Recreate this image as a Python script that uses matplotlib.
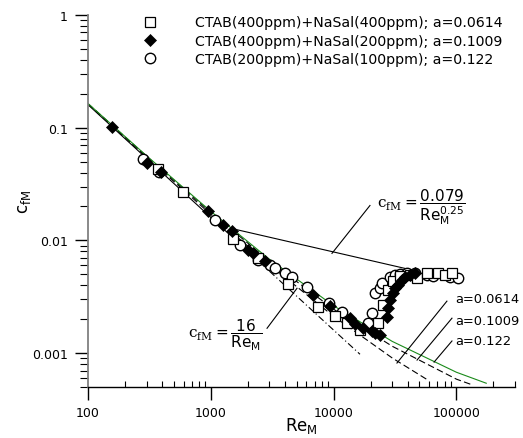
import matplotlib
matplotlib.use('Agg')
from matplotlib import pyplot as plt
from matplotlib.ticker import LogLocator, FuncFormatter, NullFormatter

plt.rcParams['mathtext.fontset'] = 'custom'
plt.rcParams['mathtext.rm'] = 'DejaVu Sans'
plt.rcParams['mathtext.it'] = 'DejaVu Sans:italic'

re_sq = [372, 594, 1516, 2424, 4253, 7464, 10265, 12856, 16406, 22990, 25255, 27733,
         30449, 34718, 41876, 47775, 57625, 70836, 80801, 92100]
cf_sq = [0.0434, 0.0271, 0.0102, 0.00693, 0.00408, 0.00255, 0.00213, 0.00184, 0.00160,
         0.00184, 0.00266, 0.00361, 0.00434, 0.00480, 0.00490, 0.00461, 0.00510, 0.00510,
         0.00490, 0.00510]

re_di = [157, 302, 393, 949, 1257, 1488, 2009, 2206, 2763, 6796, 9348, 13599, 14939,
         17353, 20546, 21737, 23870, 27220, 27733, 28793, 30449, 31623, 33442, 36048,
         38134, 41876, 46013]
cf_di = [0.102, 0.0490, 0.0408, 0.01805, 0.01358, 0.01201, 0.00816, 0.00767, 0.00652,
         0.00326, 0.00261, 0.00204, 0.00181, 0.00166, 0.00157, 0.00150, 0.00144, 0.00208,
         0.00250, 0.00294, 0.00340, 0.00376, 0.00400, 0.00443, 0.00471, 0.00490, 0.00510]

re_ci = [280, 379, 1082, 1729, 2424, 3035, 3333, 4020, 4585, 6074, 9174, 11706, 19057,
         20546, 21737, 23870, 24787, 28793, 31623, 34718, 39594, 46013, 57625, 64483,
         88690, 103040]
cf_ci = [0.0532, 0.0408, 0.01503, 0.00903, 0.00665, 0.00601, 0.00565, 0.00510, 0.00471,
         0.00384, 0.00277, 0.00231, 0.00184, 0.00226, 0.00340, 0.00376, 0.00416, 0.00471,
         0.00490, 0.00500, 0.00510, 0.00510, 0.00490, 0.00480, 0.00471, 0.00461]

labels = ['CTAB(400ppm)+NaSal(400ppm); a=0.0614',
          'CTAB(400ppm)+NaSal(200ppm); a=0.1009',
          'CTAB(200ppm)+NaSal(100ppm); a=0.122']

# reference lines
re_lam = [100, 2500]
cf_lam = [0.16, 0.0064]
re_lam_dd = [2500, 16400]
cf_lam_dd = [0.0064, 0.000976]
re_bl = [1500, 50000]
cf_bl = [0.0127, 0.00527]

# fitted curves for each a
re_a1 = [100, 300, 1000, 3000, 10000, 30000, 58000]
cf_a1 = [0.1621, 0.0548, 0.0170, 0.00608, 0.00212, 0.000905, 0.00058]
re_a2 = [100, 300, 1000, 3000, 10000, 30000, 100000, 136000]
cf_a2 = [0.1634, 0.0558, 0.0177, 0.00656, 0.00245, 0.00115, 0.000587, 0.00052]
re_a3 = [100, 300, 1000, 3000, 10000, 30000, 100000, 175000]
cf_a3 = [0.164, 0.0563, 0.0181, 0.0068, 0.00263, 0.00127, 0.000676, 0.00054]

fig = plt.figure(figsize=(5.23, 4.39), dpi=100)
ax = fig.add_axes([88/523, 1-388/439, (515-88)/523, (388-16)/439])
ax.set_xscale('log')
ax.set_yscale('log')
ax.set_xlim(100, 300000)
ax.set_ylim(0.0005, 1)

lw = 0.8
ax.plot(re_lam, cf_lam, color='k', lw=lw)
ax.plot(re_lam_dd, cf_lam_dd, color='k', lw=lw, dashes=(6, 2.5, 1, 2.5))
ax.plot(re_bl, cf_bl, color='k', lw=lw)
ax.plot(re_a1, cf_a1, color='k', lw=lw, dashes=(6, 3))
ax.plot(re_a2, cf_a2, color='k', lw=lw, dashes=(6, 3))
ax.plot(re_a3, cf_a3, color='#1a8a1a', lw=lw)

h1, = ax.plot(re_sq, cf_sq, 's', ms=6.5, mfc='white', mec='k', mew=0.9, zorder=5)
h2, = ax.plot(re_di, cf_di, 'D', ms=6, mfc='k', mec='k', mew=0.5, zorder=6)
h3, = ax.plot(re_ci, cf_ci, 'o', ms=7.5, mfc='white', mec='k', mew=1.0, zorder=4)

ax.legend([h1, h2, h3], labels, loc='upper left', bbox_to_anchor=(143/523, 1-16.5/439),
          bbox_transform=fig.transFigure, frameon=False, fontsize=10.2, borderpad=0,
          borderaxespad=0, handlelength=1.0, handletextpad=2.65, labelspacing=0.3)

# annotations
def label_eq(x, y, s):
    ax.text(x, y, s, family='DejaVu Serif', fontsize=11, va='center', ha='left')

label_eq(22500, 0.0200, r'$\mathregular{c}_{\mathregular{fM}}=\dfrac{0.079}{\mathrm{Re}_{\mathrm{M}}^{0.25}}$')
ax.plot([19770, 9700], [0.0204, 0.00767], color='k', lw=lw)
label_eq(651, 0.00147, r'$\mathregular{c}_{\mathregular{fM}}=\dfrac{16}{\mathrm{Re}_{\mathrm{M}}}$')
ax.plot([2870, 5035], [0.00166, 0.00376], color='k', lw=lw)

ax.text(97500, 0.00307, 'a=0.0614', fontsize=9.4, va='center')
ax.text(97500, 0.00196, 'a=0.1009', fontsize=9.4, va='center')
ax.text(97500, 0.00130, 'a=0.122', fontsize=9.4, va='center')
ax.plot([83700, 32800], [0.00289, 0.000816], color='k', lw=lw)
ax.plot([92000, 47800], [0.00204, 0.000867], color='k', lw=lw)
ax.plot([92000, 65800], [0.00128, 0.000832], color='k', lw=lw)

# axes styling
for s in ['top', 'right']:
    ax.spines[s].set_visible(False)
ax.spines['left'].set_color('0.5')
ax.spines['left'].set_linewidth(1.3)
ax.spines['bottom'].set_linewidth(1.0)

fmt = FuncFormatter(lambda v, p: '%g' % v)
ax.xaxis.set_major_locator(LogLocator(base=10, numticks=10))
ax.xaxis.set_minor_locator(LogLocator(base=10, subs=range(2, 10), numticks=20))
ax.yaxis.set_major_locator(LogLocator(base=10, numticks=10))
ax.yaxis.set_minor_locator(LogLocator(base=10, subs=range(2, 10), numticks=20))
ax.xaxis.set_major_formatter(fmt)
ax.yaxis.set_major_formatter(fmt)
ax.xaxis.set_minor_formatter(NullFormatter())
ax.yaxis.set_minor_formatter(NullFormatter())
ax.tick_params(axis='x', which='major', direction='out', length=9, width=1, labelsize=9, pad=5)
ax.tick_params(axis='x', which='minor', direction='in', length=4.5, width=0.8)
ax.tick_params(axis='y', which='major', direction='out', length=9.5, width=1, labelsize=9, pad=5)
ax.tick_params(axis='y', which='minor', direction='out', length=5.5, width=0.8)

ax.set_xlabel(r'Re$_\mathregular{M}$', fontsize=12)
ax.set_ylabel(r'c$_\mathregular{fM}$', fontsize=12)
ax.xaxis.set_label_coords(0.5, -0.076)
ax.yaxis.set_label_coords(-0.128, 0.5)

plt.savefig('out.png', dpi=100)
